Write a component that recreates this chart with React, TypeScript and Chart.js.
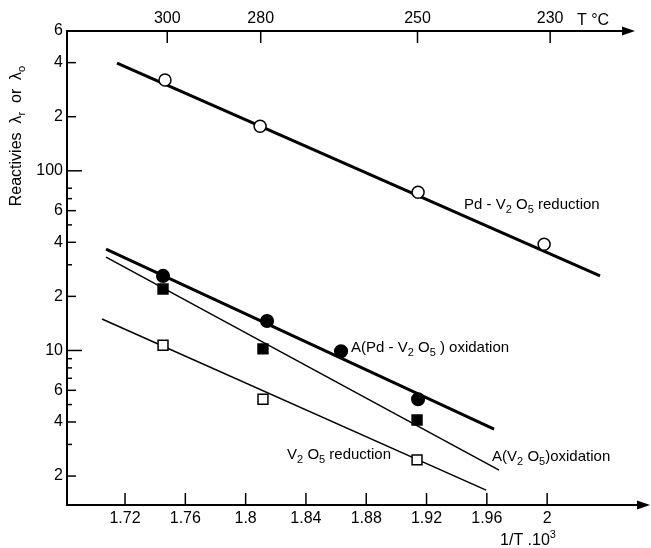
import React, { useEffect, useRef } from "react";
import { Chart, registerables } from "chart.js";

Chart.register(...registerables);

// ---- axes ----
const X_MIN = 1.6815;
const X_MAX = 2.0616;
const X_TICKS = [1.72, 1.76, 1.8, 1.84, 1.88, 1.92, 1.96, 2];
const X_TICK_LABELS = ["1.72", "1.76", "1.8", "1.84", "1.88", "1.92", "1.96", "2"];
const T_TICK_POS = [1.748, 1.81, 1.914, 2.002];
const T_LABELS = ["300", "280", "250", "230"];
const Y_MIN = 1.38;
const Y_MAX = 600;
const Y_TICKS = [2, 4, 6, 10, 20, 40, 60, 100, 200, 400, 600];
const Y_TICK_LABELS = ["2", "4", "6", "10", "2", "4", "6", "100", "2", "4", "6"];
const Y_LONG_TICKS = [10, 100];
const Y_MINOR = [3, 5, 7, 8, 9, 30, 50, 70, 80];

// ---- measured points ----
const PD_RED_X = [1.7465, 1.8096, 1.9144, 1.998];
const PD_RED_Y = [320, 177, 76, 39];
const PD_OX_X = [1.7452, 1.8142, 1.8633, 1.9144];
const PD_OX_Y = [26, 14.6, 9.9, 5.35];
const V_OX_X = [1.7452, 1.8115, 1.9137];
const V_OX_Y = [22, 10.2, 4.1];
const V_RED_X = [1.7452, 1.8115, 1.9137];
const V_RED_Y = [10.7, 5.35, 2.46];

// ---- fitted lines (end points) ----
const PD_RED_LINE_X = [1.7147, 2.0351];
const PD_RED_LINE_Y = [398, 26];
const PD_OX_LINE_X = [1.7074, 1.9648];
const PD_OX_LINE_Y = [36.7, 3.65];
const V_OX_LINE_X = [1.7074, 1.9681];
const V_OX_LINE_Y = [33.1, 2.16];
const V_RED_LINE_X = [1.7047, 1.9595];
const V_RED_LINE_Y = [14.96, 1.67];

// ---- annotation labels (anchored in data coordinates) ----
type Part = [string, "" | "sub" | "sup"];
const NOTES: { x: number; y: number; parts: Part[] }[] = [
  { x: 1.9449, y: 64.5, parts: [["Pd - V", ""], ["2", "sub"], [" O", ""], ["5", "sub"], [" reduction", ""]] },
  { x: 1.8699, y: 10.3, parts: [["A(Pd - V", ""], ["2", "sub"], [" O", ""], ["5", "sub"], [" ) oxidation", ""]] },
  { x: 1.9635, y: 2.55, parts: [["A(V", ""], ["2", "sub"], [" O", ""], ["5", "sub"], [")oxidation", ""]] },
  { x: 1.8275, y: 2.62, parts: [["V", ""], ["2", "sub"], [" O", ""], ["5", "sub"], [" reduction", ""]] },
];
const Y_TITLE: Part[] = [["Reactivies  λ", ""], ["r", "sub"], ["  or  λ", ""], ["o", "sub"]];
const X_TITLE: Part[] = [["1/T .10", ""], ["3", "sup"]];
const T_TITLE = "T °C";

const FAMILY = "'Liberation Sans', Arial, Helvetica, sans-serif";
const FS = 15;
const TICK_FS = 16;
const TITLE_FS = 16;

const pts = (xs: number[], ys: number[]) => xs.map((x, i) => ({ x, y: ys[i] }));

function richWidth(ctx: CanvasRenderingContext2D, parts: Part[], size: number) {
  let w = 0;
  for (const [t, k] of parts) {
    ctx.font = `${k ? Math.round(size * 0.7) : size}px ${FAMILY}`;
    w += ctx.measureText(t).width;
  }
  return w;
}

function drawRich(ctx: CanvasRenderingContext2D, parts: Part[], x: number, y: number, size: number) {
  ctx.textBaseline = "middle";
  ctx.textAlign = "left";
  let cx = x;
  for (const [t, k] of parts) {
    const s = k ? Math.round(size * 0.7) : size;
    ctx.font = `${s}px ${FAMILY}`;
    const dy = k === "sub" ? size * 0.3 : k === "sup" ? -size * 0.35 : 0;
    ctx.fillText(t, cx, y + dy);
    cx += ctx.measureText(t).width;
  }
}

const overlay = {
  id: "overlay",
  afterDraw(chart: any) {
    const { ctx, chartArea: ca, scales } = chart;
    const xs = scales.x;
    const ys = scales.y;
    ctx.save();
    ctx.strokeStyle = "#000";
    ctx.fillStyle = "#000";
    ctx.lineCap = "butt";

    const seg = (x1: number, y1: number, x2: number, y2: number, w: number) => {
      ctx.lineWidth = w;
      ctx.beginPath();
      ctx.moveTo(x1, y1);
      ctx.lineTo(x2, y2);
      ctx.stroke();
    };
    const arrow = (tipX: number, yy: number) => {
      ctx.beginPath();
      ctx.moveTo(tipX, yy);
      ctx.lineTo(tipX - 13, yy - 4.5);
      ctx.lineTo(tipX - 13, yy + 4.5);
      ctx.closePath();
      ctx.fill();
    };

    // axis lines
    seg(ca.left, ca.top - 1, ca.left, ca.bottom + 1, 2);
    seg(ca.left - 1, ca.bottom, ca.right + 0, ca.bottom, 2);
    arrow(ca.right + 10, ca.bottom);
    seg(ca.left - 1, ca.top, ca.right - 10, ca.top, 2);
    arrow(ca.right - 5, ca.top);

    // inward tick marks
    for (const v of X_TICKS) {
      const px = xs.getPixelForValue(v);
      seg(px, ca.bottom, px, ca.bottom - 12, 1.5);
    }
    for (const v of T_TICK_POS) {
      const px = xs.getPixelForValue(v);
      seg(px, ca.top, px, ca.top + 12, 1.5);
    }
    for (const v of Y_TICKS) {
      const py = ys.getPixelForValue(v);
      const len = Y_LONG_TICKS.includes(v) ? 15 : 9;
      seg(ca.left, py, ca.left + len, py, 1.5);
    }
    for (const v of Y_MINOR) {
      const py = ys.getPixelForValue(v);
      seg(ca.left, py, ca.left + 5, py, 1.5);
    }

    // annotations
    for (const n of NOTES) {
      drawRich(ctx, n.parts, xs.getPixelForValue(n.x), ys.getPixelForValue(n.y), FS);
    }

    // top axis title
    ctx.font = `${TICK_FS}px ${FAMILY}`;
    ctx.textBaseline = "middle";
    ctx.textAlign = "left";
    ctx.fillText(T_TITLE, ca.right - 63, ca.top - 10);

    // x title
    const xw = richWidth(ctx, X_TITLE, TITLE_FS);
    drawRich(ctx, X_TITLE, 528 - xw / 2, ca.bottom + 36, TITLE_FS);

    // y title (rotated)
    ctx.save();
    ctx.translate(17, 136);
    ctx.rotate(-Math.PI / 2);
    const yw = richWidth(ctx, Y_TITLE, TITLE_FS);
    drawRich(ctx, Y_TITLE, -yw / 2, 0, TITLE_FS);
    ctx.restore();

    ctx.restore();
  },
};

export default function App() {
  const ref = useRef<HTMLCanvasElement | null>(null);

  useEffect(() => {
    document.body.style.margin = "0";
    const canvas = ref.current;
    if (!canvas) return;

    const markerDs = (xs: number[], ys: number[], style: string, filled: boolean, r: number) => ({
      data: pts(xs, ys),
      showLine: false,
      pointStyle: style,
      pointRadius: r,
      pointHoverRadius: r,
      pointBackgroundColor: filled ? "#000" : "#fff",
      pointBorderColor: "#000",
      pointBorderWidth: 1.5,
    });
    const lineDs = (xs: number[], ys: number[], w: number) => ({
      data: pts(xs, ys),
      showLine: true,
      borderColor: "#000",
      borderWidth: w,
      pointRadius: 0,
      pointHoverRadius: 0,
      fill: false,
      tension: 0,
    });

    const tickFont = { family: FAMILY, size: TICK_FS };

    const chart = new Chart(canvas, {
      type: "scatter",
      data: {
        datasets: [
          markerDs(PD_RED_X, PD_RED_Y, "circle", false, 6),
          markerDs(PD_OX_X, PD_OX_Y, "circle", true, 6.3),
          markerDs(V_OX_X, V_OX_Y, "rect", true, 7),
          markerDs(V_RED_X, V_RED_Y, "rect", false, 7),
          lineDs(PD_RED_LINE_X, PD_RED_LINE_Y, 3),
          lineDs(PD_OX_LINE_X, PD_OX_LINE_Y, 3),
          lineDs(V_OX_LINE_X, V_OX_LINE_Y, 1.5),
          lineDs(V_RED_LINE_X, V_RED_LINE_Y, 1.5),
        ] as any,
      },
      options: {
        responsive: false,
        animation: false,
        devicePixelRatio: 1,
        layout: { padding: { left: 0, top: 0, right: 11, bottom: 0 } },
        plugins: { legend: { display: false }, tooltip: { enabled: false } },
        events: [],
        scales: {
          x: {
            type: "linear",
            position: "bottom",
            min: X_MIN,
            max: X_MAX,
            bounds: "data",
            grid: { display: false, drawTicks: false },
            border: { display: false },
            afterBuildTicks: (s: any) => {
              s.ticks = X_TICKS.map((v) => ({ value: v }));
            },
            afterFit: (s: any) => {
              s.height = 43;
            },
            ticks: {
              autoSkip: false,
              maxRotation: 0,
              padding: 4,
              color: "#000",
              font: tickFont,
              callback: (_v: any, i: number) => X_TICK_LABELS[i],
            },
          },
          x2: {
            type: "linear",
            position: "top",
            min: X_MIN,
            max: X_MAX,
            bounds: "data",
            grid: { display: false, drawTicks: false },
            border: { display: false },
            afterBuildTicks: (s: any) => {
              s.ticks = T_TICK_POS.map((v) => ({ value: v }));
            },
            afterFit: (s: any) => {
              s.height = 31;
            },
            ticks: {
              autoSkip: false,
              maxRotation: 0,
              padding: 3,
              color: "#000",
              font: tickFont,
              callback: (_v: any, i: number) => T_LABELS[i],
            },
          },
          y: {
            type: "logarithmic",
            min: Y_MIN,
            max: Y_MAX,
            bounds: "data",
            grid: { display: false, drawTicks: false },
            border: { display: false },
            afterBuildTicks: (s: any) => {
              s.ticks = Y_TICKS.map((v) => ({ value: v }));
            },
            afterFit: (s: any) => {
              s.width = 67;
            },
            ticks: {
              autoSkip: false,
              padding: 4,
              color: "#000",
              font: tickFont,
              callback: (_v: any, i: number) => Y_TICK_LABELS[i],
            },
          },
        },
      } as any,
      plugins: [overlay],
    });

    return () => chart.destroy();
  }, []);

  return (
    <canvas
      ref={ref}
      width={651}
      height={548}
      style={{ display: "block", width: 651, height: 548 }}
    />
  );
}
